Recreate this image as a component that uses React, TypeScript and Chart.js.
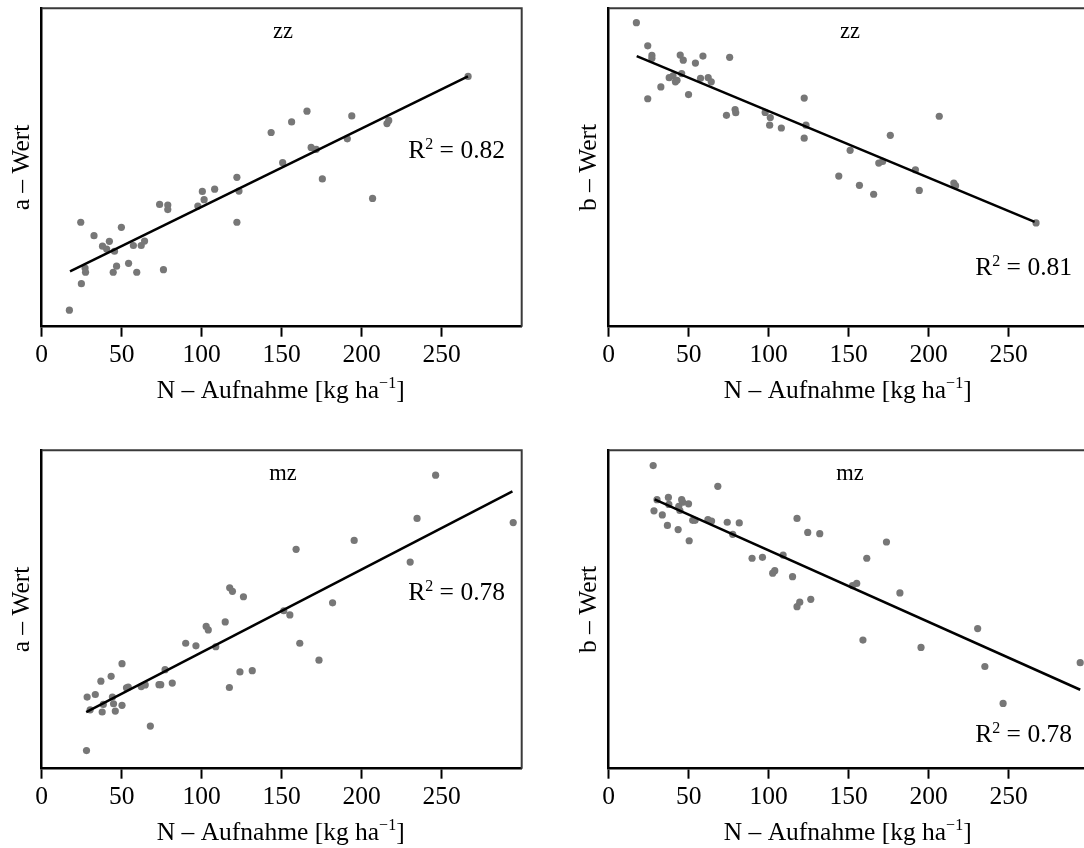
import React, { useEffect, useRef } from 'react';
import { Chart, registerables } from 'chart.js';

Chart.register(...registerables);

const FONT = "'Liberation Serif', 'Times New Roman', 'DejaVu Serif', serif";

// shared x-axis tick labels (N-Aufnahme, kg/ha)
const xTickValues = [0, 50, 100, 150, 200, 250];
const xAxisMin = 0;
const xAxisMax = 300;
const yAxisMin = 0;
const yAxisMax = 100;

// ---- zz : a-Wert ----
const zzAX = [17.3, 24.8, 24.4, 27.1, 27.4, 32.7, 38.0, 40.6, 42.3, 44.7, 45.5, 46.8, 49.8, 54.3, 57.3, 59.4, 62.2, 64.3, 73.7, 76.1, 78.8, 78.8, 97.6, 100.4, 101.5, 108.1, 122.0, 123.3, 122.0, 143.4, 150.6, 156.2, 165.8, 168.4, 171.6, 175.4, 191.0, 193.8, 206.8, 215.8, 216.9, 266.5];
const zzAY = [5.2, 13.5, 32.8, 18.4, 17.1, 28.6, 25.3, 24.4, 26.8, 17.1, 23.7, 19.0, 31.2, 19.9, 25.5, 17.1, 25.5, 26.9, 38.4, 17.9, 38.2, 36.8, 37.9, 42.5, 39.9, 43.2, 46.9, 42.6, 32.8, 61.0, 51.5, 64.3, 67.7, 56.3, 55.7, 46.4, 59.0, 66.2, 40.3, 63.8, 64.8, 78.6];
const zzAFitX = [17.7, 266.4];
const zzAFitY = [17.4, 78.6];
const zzAR2 = '0.82';

// ---- zz : b-Wert ----
const zzBX = [17.3, 24.4, 24.4, 27.0, 27.0, 32.6, 37.8, 40.2, 41.7, 42.7, 44.7, 45.6, 46.6, 49.9, 54.2, 57.4, 58.9, 62.2, 64.1, 73.6, 75.6, 79.0, 79.4, 97.8, 100.6, 101.0, 107.9, 122.2, 122.2, 123.3, 143.8, 150.9, 156.7, 165.6, 168.8, 171.2, 176.0, 191.7, 194.1, 206.6, 215.7, 216.8, 267.1];
const zzBY = [95.5, 88.2, 71.6, 85.2, 84.3, 75.3, 78.2, 78.8, 76.9, 77.4, 85.3, 79.5, 83.7, 72.9, 82.8, 78.0, 85.0, 78.2, 76.9, 66.4, 84.6, 68.2, 67.2, 67.3, 63.3, 65.7, 62.4, 71.8, 59.2, 63.3, 47.3, 55.4, 44.4, 41.6, 51.4, 51.9, 60.1, 49.3, 42.8, 66.1, 45.1, 44.3, 32.6];
const zzBFitX = [17.5, 266.2];
const zzBFitY = [85.0, 32.9];
const zzBR2 = '0.81';

// ---- mz : a-Wert ----
const mzAX = [28.0, 28.4, 30.3, 33.5, 37.0, 37.8, 38.5, 43.4, 44.2, 44.9, 46.0, 50.2, 50.2, 53.0, 54.1, 62.2, 64.7, 67.9, 73.3, 74.4, 77.1, 81.6, 90.0, 96.4, 102.8, 104.1, 108.8, 114.7, 117.3, 117.5, 119.2, 123.9, 126.1, 131.6, 151.3, 155.1, 159.0, 161.3, 173.3, 181.8, 195.3, 230.3, 234.6, 246.2, 294.7];
const mzAY = [5.7, 22.5, 18.5, 23.3, 27.5, 17.8, 20.2, 29.0, 22.5, 20.4, 18.1, 33.0, 19.9, 25.4, 25.6, 25.8, 26.3, 13.4, 26.4, 26.4, 31.1, 26.9, 39.4, 38.6, 44.7, 43.6, 38.3, 46.1, 25.5, 56.8, 55.7, 30.4, 54.0, 30.8, 49.6, 48.3, 68.9, 39.4, 34.1, 52.1, 71.7, 64.9, 78.6, 92.2, 77.3];
const mzAFitX = [27.8, 294.2];
const mzAFitY = [17.8, 87.1];
const mzAR2 = '0.78';

// ---- mz : b-Wert ----
const mzBX = [27.8, 28.3, 30.2, 33.5, 36.7, 37.3, 37.6, 43.4, 43.8, 44.5, 45.6, 46.2, 49.9, 50.3, 52.5, 54.0, 62.0, 64.3, 68.2, 74.1, 77.5, 81.6, 89.6, 96.1, 102.5, 103.8, 109.0, 114.9, 117.7, 117.7, 119.4, 124.4, 126.3, 131.9, 152.4, 155.0, 158.9, 161.3, 173.6, 182.0, 195.2, 230.6, 235.1, 246.5, 294.7];
const mzBY = [95.2, 81.0, 84.5, 79.7, 76.4, 85.2, 83.0, 75.1, 82.4, 81.1, 84.5, 83.7, 83.2, 71.6, 78.0, 78.0, 78.2, 77.8, 88.7, 77.4, 73.6, 77.2, 66.1, 66.4, 61.4, 62.2, 67.1, 60.3, 78.6, 50.9, 52.3, 74.2, 53.2, 73.8, 57.5, 58.2, 40.4, 66.1, 71.2, 55.2, 38.1, 44.0, 32.1, 20.5, 33.3];
const mzBFitX = [28.7, 294.7];
const mzBFitY = [84.6, 24.8];
const mzBR2 = '0.78';

// ---- layout (pixels), kept apart from the data ----
const CANVAS_W = 540;
const CANVAS_H = 420;
const PAD_TOP = 8.3;
const PAD_RIGHT = 18.3;
const Y_AXIS_W = 41.7;
const X_AXIS_H = 93.3;
const MAIN_SIZE = 25.5;
const SUP_SIZE = 16;
const LABEL_SIZE = 22.5;

type PanelDef = {
  xs: number[];
  ys: number[];
  fitX: number[];
  fitY: number[];
  label: string;
  yTitle: string;
  r2: string;
  left: number;
  top: number;
  r2Baseline: number;
};

const panels: PanelDef[] = [
  { xs: zzAX, ys: zzAY, fitX: zzAFitX, fitY: zzAFitY, label: 'zz', yTitle: 'a – Wert', r2: zzAR2, left: 0, top: 0, r2Baseline: 158.3 },
  { xs: zzBX, ys: zzBY, fitX: zzBFitX, fitY: zzBFitY, label: 'zz', yTitle: 'b – Wert', r2: zzBR2, left: 567, top: 0, r2Baseline: 275 },
  { xs: mzAX, ys: mzAY, fitX: mzAFitX, fitY: mzAFitY, label: 'mz', yTitle: 'a – Wert', r2: mzAR2, left: 0, top: 442, r2Baseline: 158.3 },
  { xs: mzBX, ys: mzBY, fitX: mzBFitX, fitY: mzBFitY, label: 'mz', yTitle: 'b – Wert', r2: mzBR2, left: 567, top: 442, r2Baseline: 300.3 },
];

type Seg = { t: string; size: number; dy: number };

function drawRich(ctx: CanvasRenderingContext2D, segs: Seg[], x: number, baseline: number, align: 'center' | 'right') {
  let total = 0;
  const widths = segs.map((s) => {
    ctx.font = `${s.size}px ${FONT}`;
    const w = ctx.measureText(s.t).width;
    total += w;
    return w;
  });
  let cx = align === 'center' ? x - total / 2 : x - total;
  ctx.textAlign = 'left';
  ctx.textBaseline = 'alphabetic';
  segs.forEach((s, i) => {
    ctx.font = `${s.size}px ${FONT}`;
    ctx.fillText(s.t, cx, baseline + s.dy);
    cx += widths[i];
  });
}

const panelPlugin = {
  id: 'panelDecor',
  afterDraw(chart: any, _args: any, opts: any) {
    const { ctx, chartArea } = chart;
    const { left, right, top, bottom } = chartArea;
    ctx.save();
    // box (top and right)
    ctx.strokeStyle = '#3a3a3a';
    ctx.lineWidth = 2;
    ctx.beginPath();
    ctx.moveTo(left, top);
    ctx.lineTo(right, top);
    ctx.lineTo(right, bottom);
    ctx.stroke();

    ctx.fillStyle = '#000';
    // panel label
    ctx.font = `${LABEL_SIZE}px ${FONT}`;
    ctx.textAlign = 'center';
    ctx.textBaseline = 'alphabetic';
    ctx.fillText(opts.label, (left + right) / 2 + 1.3, 38.3);

    // R^2 text
    drawRich(
      ctx,
      [
        { t: 'R', size: MAIN_SIZE, dy: 0 },
        { t: '2', size: SUP_SIZE, dy: -9.5 },
        { t: ' = ' + opts.r2, size: MAIN_SIZE, dy: 0 },
      ],
      505,
      opts.r2Baseline,
      'right'
    );

    // x-axis title
    drawRich(
      ctx,
      [
        { t: 'N – Aufnahme [kg ha', size: MAIN_SIZE, dy: 0 },
        { t: '−1', size: SUP_SIZE, dy: -10 },
        { t: ']', size: MAIN_SIZE, dy: 0 },
      ],
      (left + right) / 2 - 1,
      397.7,
      'center'
    );
    ctx.restore();
  },
};

function Panel({ def }: { def: PanelDef }) {
  const ref = useRef<HTMLCanvasElement | null>(null);
  useEffect(() => {
    if (!ref.current) return;
    const chart = new Chart(ref.current, {
      type: 'scatter',
      data: {
        datasets: [
          {
            type: 'line',
            data: def.fitX.map((x, i) => ({ x, y: def.fitY[i] })),
            borderColor: '#000',
            borderWidth: 2.5,
            pointRadius: 0,
            fill: false,
            tension: 0,
          } as any,
          {
            type: 'scatter',
            data: def.xs.map((x, i) => ({ x, y: def.ys[i] })),
            pointRadius: 3.6,
            pointHoverRadius: 3.6,
            backgroundColor: '#777777',
            borderWidth: 0,
          } as any,
        ],
      },
      options: {
        responsive: false,
        animation: false,
        devicePixelRatio: 1,
        events: [],
        layout: { padding: { top: PAD_TOP, left: 0, right: PAD_RIGHT, bottom: 0 } },
        plugins: {
          legend: { display: false },
          tooltip: { enabled: false },
          panelDecor: { label: def.label, r2: def.r2, r2Baseline: def.r2Baseline },
        } as any,
        scales: {
          x: {
            type: 'linear',
            min: xAxisMin,
            max: xAxisMax,
            afterBuildTicks: (s: any) => {
              s.ticks = xTickValues.map((v) => ({ value: v }));
            },
            afterFit: (s: any) => {
              s.height = X_AXIS_H;
            },
            grid: {
              display: true,
              drawOnChartArea: false,
              drawTicks: true,
              tickLength: 10,
              tickWidth: 2,
              tickColor: '#000',
            },
            border: { display: true, color: '#000', width: 2.5 },
            ticks: {
              color: '#000',
              font: { family: FONT, size: MAIN_SIZE },
              padding: 3,
              maxRotation: 0,
              autoSkip: false,
            },
            title: { display: false },
          },
          y: {
            type: 'linear',
            min: yAxisMin,
            max: yAxisMax,
            afterFit: (s: any) => {
              s.width = Y_AXIS_W;
            },
            grid: { display: false },
            border: { display: true, color: '#000', width: 2.5 },
            ticks: { display: false },
            title: {
              display: true,
              text: def.yTitle,
              color: '#000',
              font: { family: FONT, size: MAIN_SIZE },
              padding: { top: 6.5, bottom: 0 },
            },
          },
        },
      } as any,
      plugins: [panelPlugin],
    });
    return () => chart.destroy();
  }, [def]);
  return (
    <canvas
      ref={ref}
      width={CANVAS_W}
      height={CANVAS_H}
      style={{ position: 'absolute', left: def.left, top: def.top, width: CANVAS_W, height: CANVAS_H }}
    />
  );
}

export default function App() {
  return (
    <div
      style={{
        position: 'fixed',
        left: 0,
        top: 0,
        width: 1084,
        height: 848,
        overflow: 'hidden',
        background: '#fff',
      }}
    >
      {panels.map((p, i) => (
        <Panel key={i} def={p} />
      ))}
    </div>
  );
}
